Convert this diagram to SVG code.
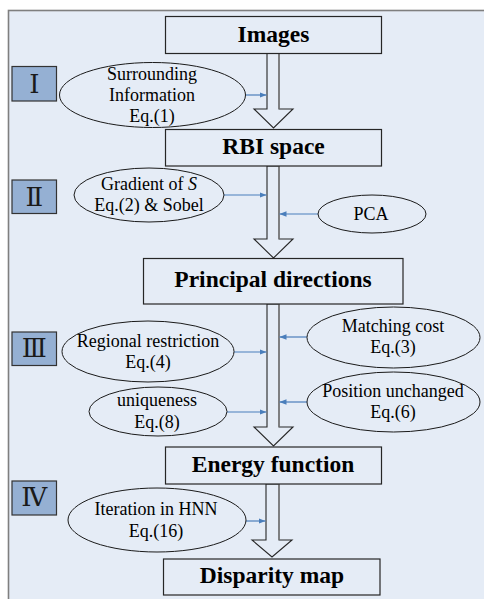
<svg xmlns="http://www.w3.org/2000/svg" width="484" height="599" viewBox="0 0 484 599">
<defs>
<style>
.frame{fill:#E5ECF6;stroke:#7F7F7F;stroke-width:1.6}
.box{fill:#E5ECF6;stroke:#262626;stroke-width:1.2}
.rom{fill:#95B0D3;stroke:#333;stroke-width:1.2}
.ell{fill:#E5ECF6;stroke:#1a1a1a;stroke-width:1}
.big{font-weight:bold;font-size:23.5px;fill:#000;text-anchor:middle}
.lbl{font-size:18px;fill:#000;text-anchor:middle}
.num{font-size:26px;fill:#1a1a1a;text-anchor:middle}
.fat{fill:#E5ECF6;stroke:#262626;stroke-width:1.1}
.fatr{fill:none;stroke:#808080;stroke-width:1.3}
.con{fill:none;stroke:#4A7EBB;stroke-width:1.2;marker-end:url(#ah)}
</style>
<marker id="ah" viewBox="0 0 10 10" refX="10" refY="5" markerWidth="7" markerHeight="7" markerUnits="userSpaceOnUse" orient="auto">
<path d="M0,1 L10,5 L0,9 z" fill="#4A7EBB"/>
</marker>
</defs>
<rect class="frame" x="8.5" y="10.5" width="490" height="600"/>

<g id="connectors">
<g id="fat1"><polygon class="fat" points="267,53 279,53 279,109 293,109 273.5,128 254,109 267,109"/><line class="fatr" x1="279" y1="53" x2="279" y2="109"/></g>
<g id="fat2"><polygon class="fat" points="267,166 279,166 279,239 293,239 273.5,258 254,239 267,239"/><line class="fatr" x1="279" y1="166" x2="279" y2="239"/></g>
<g id="fat3"><polygon class="fat" points="267,304 279,304 279,427 293,427 273.5,446 254,427 267,427"/><line class="fatr" x1="279" y1="304" x2="279" y2="427"/></g>
<g id="fat4"><polygon class="fat" points="266,484 279,484 279,540 292,540 272,557 252,540 266,540"/><line class="fatr" x1="279" y1="484" x2="279" y2="540"/></g>
<path class="con" d="M246,95 H266.5"/>
<path class="con" d="M224,195 H266.5"/>
<path class="con" d="M318,214 H279.5"/>
<path class="con" d="M234,352 H266.5"/>
<path class="con" d="M307,337 H279.5"/>
<path class="con" d="M307,402 H279.5"/>
<path class="con" d="M227,412 H266.5"/>
<path class="con" d="M246,521 H265.5"/>
</g>

<g font-family="Liberation Serif, Times New Roman, serif">
<g id="images"><rect class="box" x="165.5" y="16.5" width="216" height="37"/><text class="big" x="273.5" y="42">Images</text></g>
<g id="rbi"><rect class="box" x="165.5" y="129.5" width="216" height="36.5"/><text class="big" x="273.5" y="154">RBI space</text></g>
<g id="principal"><rect class="box" x="143.5" y="258.5" width="259.5" height="45.5"/><text class="big" x="273" y="287">Principal directions</text></g>
<g id="energy"><rect class="box" x="165.5" y="447" width="216" height="37"/><text class="big" x="273" y="472">Energy function</text></g>
<g id="disparity"><rect class="box" x="163.5" y="559" width="216.5" height="36"/><text class="big" x="272" y="583">Disparity map</text></g>

<g id="surrounding"><ellipse class="ell" cx="152.5" cy="95" rx="93" ry="32.5"/><text class="lbl" x="152" y="80">Surrounding</text><text class="lbl" x="152" y="101">Information</text><text class="lbl" x="152" y="122">Eq.(1)</text></g>
<g id="gradient"><ellipse class="ell" cx="149" cy="195" rx="75" ry="27"/><text class="lbl" x="149" y="190">Gradient of <tspan font-style="italic">S</tspan></text><text class="lbl" x="149" y="211">Eq.(2) &amp; Sobel</text></g>
<g id="pca"><ellipse class="ell" cx="372" cy="214" rx="54" ry="19"/><text class="lbl" x="371" y="220">PCA</text></g>
<g id="regional"><ellipse class="ell" cx="148" cy="351.5" rx="86" ry="30.5"/><text class="lbl" x="148" y="347">Regional restriction</text><text class="lbl" x="148" y="368">Eq.(4)</text></g>
<g id="matching"><ellipse class="ell" cx="393.5" cy="337.5" rx="86.5" ry="30.5"/><text class="lbl" x="393" y="332">Matching cost</text><text class="lbl" x="393" y="353">Eq.(3)</text></g>
<g id="position"><ellipse class="ell" cx="393.5" cy="402" rx="86.5" ry="30"/><text class="lbl" x="393" y="397">Position unchanged</text><text class="lbl" x="393" y="418">Eq.(6)</text></g>
<g id="uniqueness"><ellipse class="ell" cx="158" cy="411.5" rx="69" ry="24.5"/><text class="lbl" x="157" y="406">uniqueness</text><text class="lbl" x="157" y="428">Eq.(8)</text></g>
<g id="iteration"><ellipse class="ell" cx="157" cy="520" rx="89" ry="32"/><text class="lbl" x="156" y="515">Iteration in HNN</text><text class="lbl" x="156" y="537">Eq.(16)</text></g>
</g>

<g font-family="Liberation Serif, DejaVu Serif, Noto Sans CJK SC, serif">
<g id="step1"><rect class="rom" x="12" y="66.5" width="44.5" height="34.5"/><text class="num" x="34.3" y="93">Ⅰ</text></g>
<g id="step2"><rect class="rom" x="12" y="180" width="44.5" height="33.5"/><text class="num" x="34.3" y="206">Ⅱ</text></g>
<g id="step3"><rect class="rom" x="12" y="332" width="44.5" height="33.5"/><text class="num" x="34.3" y="357">Ⅲ</text></g>
<g id="step4"><rect class="rom" x="12" y="481" width="44.5" height="34"/><text class="num" x="34.3" y="506">Ⅳ</text></g>
</g>
</svg>
